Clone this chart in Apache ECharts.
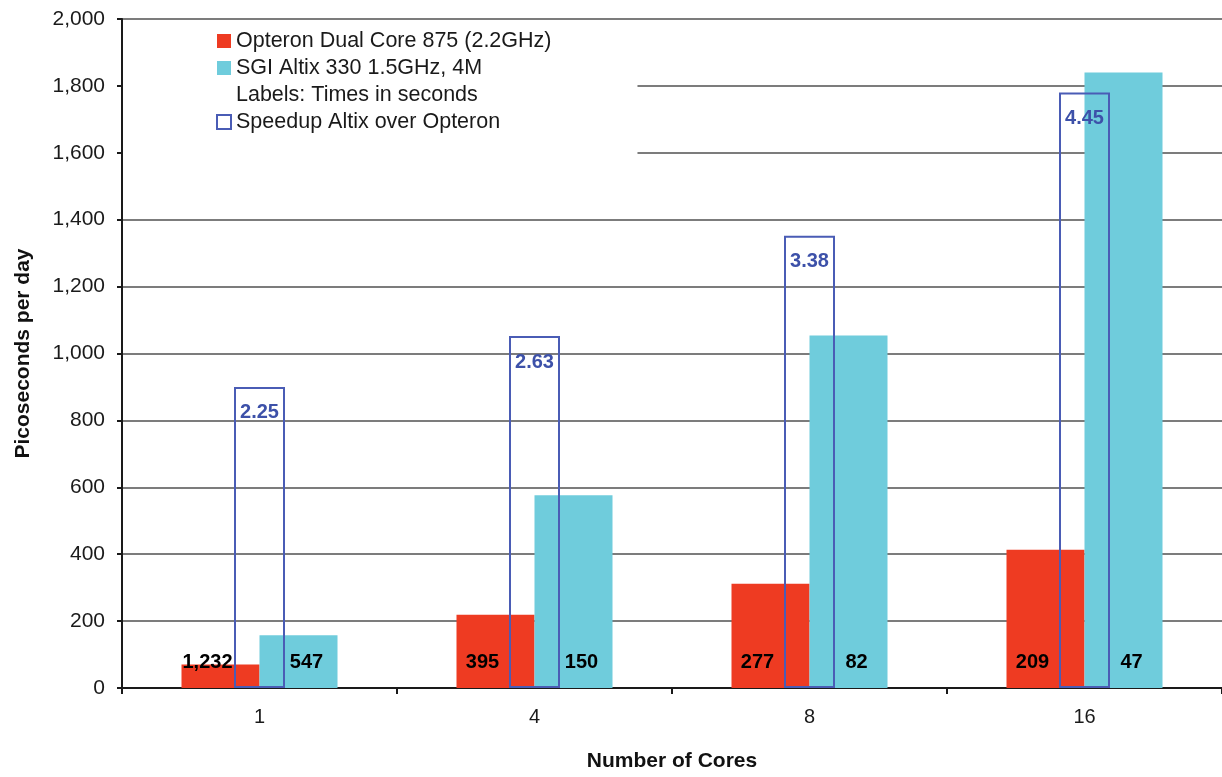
<!DOCTYPE html>
<html>
<head>
<meta charset="utf-8">
<title>Picoseconds per day</title>
<script src="https://cdn.jsdelivr.net/npm/echarts@6/dist/echarts.min.js"></script>
<style>
  html, body { margin: 0; padding: 0; background: #fff; }
  #chart { width: 1222px; height: 777px; }
</style>
</head>
<body>
<div id="chart"></div>
<script>
// Number of cores on the x axis
const cores = ['1', '4', '8', '16'];
// Throughput in picoseconds per day
const opteronPsPerDay = [70, 219, 312, 413];
const altixPsPerDay = [158, 576, 1054, 1840];
// Run times in seconds, shown as bar labels
const opteronSeconds = [1232, 395, 277, 209];
const altixSeconds = [547, 150, 82, 47];
// Speedup of Altix over Opteron (secondary scale 0..5)
const speedup = [2.25, 2.63, 3.38, 4.45];

const seriesNames = [
  'Opteron Dual Core 875 (2.2GHz)',
  'SGI Altix 330 1.5GHz, 4M',
  'Labels: Times in seconds',
  'Speedup Altix over Opteron'
];

const FONT = '"Liberation Sans", Arial, sans-serif';
const RED = '#ee3b22';
const CYAN = '#6fccdc';
const BLUE = '#4a5cb5';

const withCommas = v => v.toLocaleString('en-US');

const chart = echarts.init(document.getElementById('chart'), null, { renderer: 'canvas' });

chart.setOption({
  animation: false,
  backgroundColor: '#ffffff',
  textStyle: { fontFamily: FONT },
  grid: { left: 122, right: -3, top: 19, bottom: 89, containLabel: false },
  legend: {
    orient: 'vertical',
    left: 123,
    top: 21,
    padding: [9, 86, 26, 93],
    backgroundColor: '#ffffff',
    itemWidth: 14,
    itemHeight: 14,
    itemGap: 5,
    selectedMode: false,
    textStyle: { fontFamily: FONT, fontSize: 21.5, color: '#1a1a1a', lineHeight: 20 },
    data: [
      { name: seriesNames[0], icon: 'rect' },
      { name: seriesNames[1], icon: 'rect' },
      { name: seriesNames[2], icon: 'rect', itemStyle: { color: 'rgba(0,0,0,0)', borderWidth: 0 } },
      { name: seriesNames[3], icon: 'rect', itemStyle: { color: '#ffffff', borderColor: BLUE, borderWidth: 2 } }
    ],
    z: 10
  },
  xAxis: [
    {
      type: 'category',
      data: cores,
      boundaryGap: true,
      name: 'Number of Cores',
      nameLocation: 'middle',
      nameGap: 63,
      nameTextStyle: { fontFamily: FONT, fontSize: 21, fontWeight: 'bold', color: '#111' },
      axisLine: { lineStyle: { color: '#1a1a1a', width: 2 } },
      axisTick: { show: true, alignWithLabel: false, length: 6, lineStyle: { color: '#1a1a1a', width: 2 } },
      axisLabel: { fontFamily: FONT, fontSize: 20, color: '#1a1a1a', margin: 19 },
      splitLine: { show: false }
    },
    {
      type: 'category',
      data: cores,
      show: false,
      gridIndex: 0
    }
  ],
  yAxis: [
    {
      type: 'value',
      min: 0,
      max: 2000,
      interval: 200,
      name: 'Picoseconds per day',
      nameLocation: 'middle',
      nameGap: 88,
      nameRotate: 90,
      nameTextStyle: { fontFamily: FONT, fontSize: 21, fontWeight: 'bold', color: '#111' },
      axisLine: { show: true, lineStyle: { color: '#1a1a1a', width: 2 } },
      axisTick: { show: true, length: 5, lineStyle: { color: '#1a1a1a', width: 2 } },
      axisLabel: { fontFamily: FONT, fontSize: 21, color: '#1a1a1a', margin: 17, formatter: v => withCommas(v) },
      splitLine: { show: true, lineStyle: { color: '#7c7c7c', width: 2 } }
    },
    {
      type: 'value',
      min: 0,
      max: 5,
      interval: 1,
      show: false,
      splitLine: { show: false }
    }
  ],
  series: [
    {
      name: seriesNames[0],
      type: 'bar',
      xAxisIndex: 0,
      yAxisIndex: 0,
      data: opteronPsPerDay,
      barWidth: 78,
      barGap: '0%',
      itemStyle: { color: RED },
      label: {
        show: true,
        position: 'insideBottom',
        distance: 16,
        offset: [-13, 0],
        fontFamily: FONT,
        fontSize: 20,
        fontWeight: 'bold',
        color: '#000',
        formatter: p => withCommas(opteronSeconds[p.dataIndex])
      },
      z: 2
    },
    {
      name: seriesNames[1],
      type: 'bar',
      xAxisIndex: 0,
      yAxisIndex: 0,
      data: altixPsPerDay,
      barWidth: 78,
      barGap: '0%',
      itemStyle: { color: CYAN },
      label: {
        show: true,
        position: 'insideBottom',
        distance: 16,
        offset: [8, 0],
        fontFamily: FONT,
        fontSize: 20,
        fontWeight: 'bold',
        color: '#000',
        formatter: p => withCommas(altixSeconds[p.dataIndex])
      },
      z: 2
    },
    {
      // legend-only entry describing the bar labels
      name: seriesNames[2],
      type: 'scatter',
      data: [],
      itemStyle: { color: 'rgba(0,0,0,0)' }
    },
    {
      name: seriesNames[3],
      type: 'bar',
      xAxisIndex: 1,
      yAxisIndex: 1,
      data: speedup,
      barWidth: 51,
      itemStyle: { color: 'rgba(0,0,0,0)', borderColor: BLUE, borderWidth: 2 },
      label: {
        show: true,
        position: 'insideTop',
        distance: 16,
        fontFamily: FONT,
        fontSize: 20,
        fontWeight: 'bold',
        color: '#3d51a9',
        formatter: p => p.value.toFixed(2)
      },
      z: 4
    }
  ]
});
</script>
</body>
</html>
